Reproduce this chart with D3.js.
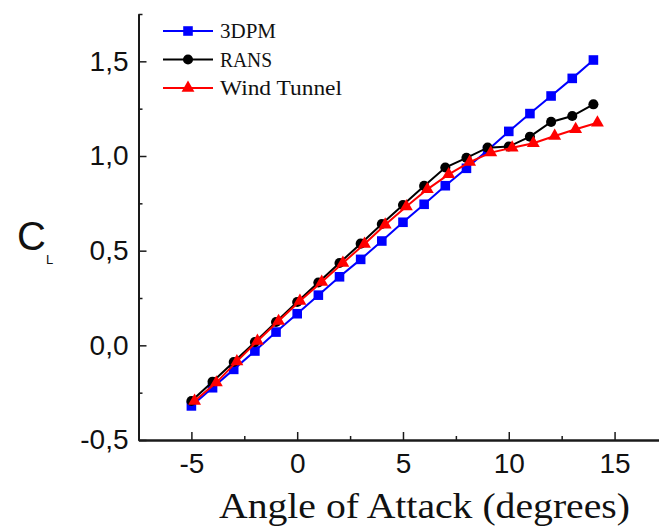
<!DOCTYPE html>
<html>
<head>
<meta charset="utf-8">
<script src="https://cdn.jsdelivr.net/npm/d3@7"></script>
<style>
  body { margin: 0; background: #fff; }
  svg { display: block; }
</style>
</head>
<body>
<div id="root"></div>
<script>
// angle of attack (deg) for the two computed series
const angles = [-5, -4, -3, -2, -1, 0, 1, 2, 3, 4, 5, 6, 7, 8, 9, 10, 11, 12, 13, 14];
const dpm3 = [-0.32, -0.224, -0.127, -0.03, 0.07, 0.167, 0.265, 0.362, 0.454, 0.551, 0.65, 0.745, 0.843, 0.935, 1.03, 1.13, 1.224, 1.317, 1.41, 1.507];
const rans = [-0.294, -0.192, -0.088, 0.017, 0.123, 0.229, 0.332, 0.435, 0.537, 0.641, 0.741, 0.842, 0.939, 0.99, 1.044, 1.05, 1.102, 1.18, 1.211, 1.273];
// wind tunnel was measured at slightly shifted angles
const windAngles = [-4.85, -3.82, -2.85, -1.88, -0.88, 0.13, 1.16, 2.16, 3.18, 4.16, 5.16, 6.15, 7.16, 8.15, 9.15, 10.16, 11.16, 12.17, 13.16, 14.19];
const wind = [-0.294, -0.197, -0.085, 0.023, 0.128, 0.234, 0.335, 0.435, 0.535, 0.637, 0.733, 0.824, 0.903, 0.968, 1.018, 1.044, 1.067, 1.106, 1.141, 1.176];

const xTicks = [-5, 0, 5, 10, 15];
const yTicks = [-0.5, 0, 0.5, 1.0, 1.5];
const seriesNames = ["3DPM", "RANS", "Wind Tunnel"];

const width = 659, height = 530;
const margin = { top: 14, right: 0, bottom: 90, left: 138.5 };

const x = d3.scaleLinear().domain([-7.5, 17.1]).range([margin.left, 659]);
const y = d3.scaleLinear().domain([-0.5, 1.75]).range([440, margin.top]);

const svg = d3.select("#root").append("svg")
  .attr("width", width)
  .attr("height", height);

const series = [
  { name: seriesNames[0], xs: angles, ys: dpm3, color: "#0000ff", shape: "square", w: 56 },
  { name: seriesNames[1], xs: angles, ys: rans, color: "#000000", shape: "circle", w: 52 },
  { name: seriesNames[2], xs: windAngles, ys: wind, color: "#ff0000", shape: "triangle", w: 122 }
];

const symbolFor = (shape) => {
  if (shape == "square") return d3.symbol().type(d3.symbolSquare).size(92)();
  if (shape == "circle") return d3.symbol().type(d3.symbolCircle).size(80)();
  return d3.symbol().type(d3.symbolTriangle).size(72)();
};

const line = d3.line()
  .x(d => x(d[0]))
  .y(d => y(d[1]));

// axes: ticks point inward
const xAxis = d3.axisBottom(x).tickValues(xTicks).tickSizeInner(-8).tickSizeOuter(0).tickPadding(13)
  .tickFormat(d => String(d));
const xAxisMinor = d3.axisBottom(x).tickValues([-2.5, 2.5, 7.5, 12.5]).tickSizeInner(-4).tickSizeOuter(0).tickFormat("");
const fmt = d => d.toFixed(1).replace(".", ",");
const yAxis = d3.axisLeft(y).tickValues(yTicks).tickSizeInner(-8).tickSizeOuter(0).tickPadding(10).tickFormat(fmt);
const yAxisMinor = d3.axisLeft(y).tickValues([-0.25, 0.25, 0.75, 1.25, 1.75]).tickSizeInner(-4).tickSizeOuter(0).tickFormat("");

const gx = svg.append("g").attr("transform", "translate(0,440)");
gx.call(xAxis);
gx.append("g").call(xAxisMinor);
const gy = svg.append("g").attr("transform", "translate(" + margin.left + ",0)");
gy.call(yAxis);
gy.append("g").call(yAxisMinor);

svg.selectAll(".domain").attr("stroke", "#1a1a1a").attr("stroke-width", 2);
svg.selectAll(".tick line").attr("stroke", "#1a1a1a").attr("stroke-width", 1.5);
svg.selectAll(".tick text")
  .attr("font-family", "Liberation Sans, Arial, sans-serif")
  .attr("font-size", 28)
  .attr("fill", "#111");

// axis titles
svg.append("text")
  .attr("x", 219)
  .attr("y", 518)
  .attr("font-family", "Liberation Serif, serif")
  .attr("font-size", 36)
  .attr("textLength", 411)
  .attr("lengthAdjust", "spacingAndGlyphs")
  .attr("fill", "#111")
  .text("Angle of Attack (degrees)");

const yTitle = svg.append("text")
  .attr("x", 17)
  .attr("y", 250)
  .attr("font-family", "Liberation Sans, Arial, sans-serif")
  .attr("font-size", 40)
  .attr("fill", "#111");
yTitle.append("tspan").text("C");
yTitle.append("tspan").attr("font-size", 13).attr("dy", 14).text("L");

// data lines + markers
series.forEach(s => {
  const pts = s.xs.map((v, i) => [v, s.ys[i]]);
  svg.append("path")
    .datum(pts)
    .attr("d", line)
    .attr("fill", "none")
    .attr("stroke", s.color)
    .attr("stroke-width", 2);
  svg.append("g").selectAll("path")
    .data(pts)
    .enter()
    .append("path")
    .attr("d", symbolFor(s.shape))
    .attr("transform", d => "translate(" + x(d[0]) + "," + y(d[1]) + ")")
    .attr("fill", s.color);
});

// legend
const legend = svg.append("g");
series.forEach((s, i) => {
  const ly = 31 + i * 28.5;
  legend.append("line")
    .attr("x1", 163).attr("x2", 213)
    .attr("y1", ly).attr("y2", ly)
    .attr("stroke", s.color)
    .attr("stroke-width", 2);
  legend.append("path")
    .attr("d", symbolFor(s.shape))
    .attr("transform", "translate(188," + ly + ")")
    .attr("fill", s.color);
  legend.append("text")
    .attr("x", 220)
    .attr("y", ly + 7)
    .attr("font-family", "Liberation Serif, serif")
    .attr("font-size", 20)
    .attr("textLength", s.w)
    .attr("lengthAdjust", "spacingAndGlyphs")
    .attr("fill", "#111")
    .text(s.name);
});
</script>
</body>
</html>
